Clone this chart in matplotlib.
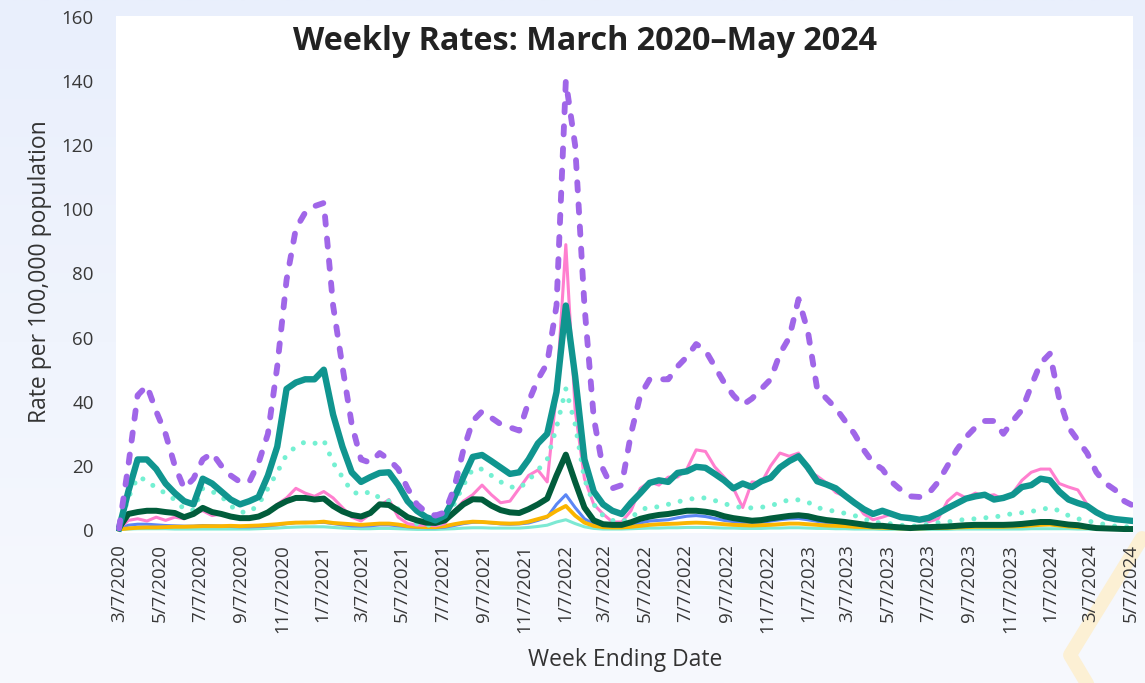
import numpy as np
import pandas as pd
import matplotlib
matplotlib.use("Agg")
import matplotlib.pyplot as plt
from matplotlib.colors import LinearSegmentedColormap

plt.rcParams['font.family'] = ['Open Sans', 'DejaVu Sans']

# ---------------- data (biweekly, week ending dates) ----------------
dates = pd.date_range('2020-03-07', periods=110, freq='14D')

purple = [0.5, 20, 42, 45, 37, 30, 20, 13, 16, 22, 24, 20, 17, 15, 15, 21, 30, 51, 78, 94,
          99, 101, 102, 70, 51, 33, 22, 21, 24, 22, 19, 13, 8, 5.5, 4.5, 5.5, 13, 25, 34, 37,
          35, 33, 32, 31, 40, 47, 52, 70, 140, 120, 70, 35, 19, 13, 14, 30, 42, 47, 47, 47,
          51, 54, 58, 56, 51, 46, 42, 39, 41, 44, 47, 55, 60, 72, 62, 44, 41, 38, 34, 30,
          25, 21, 19, 15, 12.5, 10.5, 10.3, 11.5, 15, 20, 25, 29, 32, 34, 34, 30, 34, 37.5, 45, 52,
          55, 41, 32, 28, 24, 18, 14.5, 12.5, 9, 7.5]

teal = [0.5, 12, 22, 22, 19, 14.5, 11.5, 9, 8, 16, 14.5, 12, 9.5, 8, 9, 10.3, 17, 26, 44, 46,
        47, 47, 50, 36, 26, 18, 15, 16.5, 17.8, 18, 14, 9, 6, 4, 3, 4.5, 10, 16.5, 22.8, 23.4,
        21.5, 19.5, 17.5, 18, 22, 27, 30, 43, 70, 48, 22, 12, 8, 6, 5, 8.5, 11.5, 14.7, 15.5, 15,
        17.8, 18.3, 19.7, 19.4, 17.5, 15.5, 13, 14.5, 13.4, 15.2, 16.3, 19.5, 21.5, 23, 19.5, 15.2, 14.2, 13, 10.7, 8.5,
        6.5, 5, 6, 5, 4, 3.7, 3.2, 3.8, 5.2, 6.8, 8.3, 9.8, 10.5, 11, 9.5, 10, 11, 13.4, 14, 16,
        15.5, 12, 9.5, 8.4, 7.5, 5.5, 4, 3.4, 3.1, 2.8]

dotted = [0.5, 10, 16.5, 15.5, 13, 11.5, 9.4, 6.5, 6.2, 13, 12, 10.5, 7.5, 5.6, 5.5, 8, 13, 18, 23.5, 26,
          27.5, 27, 28, 21, 16.5, 12, 11, 12, 10, 9, 6.5, 3.5, 2, 1.5, 1.5, 3, 8, 14, 19, 19,
          17, 15, 13.5, 13, 15.5, 18.7, 22, 32, 44, 33, 16, 8, 4.5, 3, 2.5, 3.8, 6.2, 7.2, 7.2, 8,
          8.8, 9.4, 10, 10, 9.2, 8.2, 7.5, 6.9, 6.9, 7.1, 7.5, 8.6, 9.4, 9.4, 8.7, 7, 6.3, 5.8, 5.2, 4.5,
          3.6, 2.3, 2.3, 1.9, 1.5, 1.2, 1.3, 1.9, 2.3, 2.5, 3, 3.3, 3.5, 3.8, 4, 4.6, 5.1, 5.4, 5.8, 6.3,
          7, 6, 4.5, 3.5, 2.9, 2.2, 1.7, 1.2, 1, 1]

dark_green = [0.6, 5, 5.6, 6, 6, 5.6, 5.3, 4, 5, 6.9, 5.6, 5, 4.2, 3.7, 3.7, 4.2, 5.5, 7.5, 9, 10,
              10, 9.5, 9.8, 7.5, 5.8, 4.7, 4.2, 5.3, 8, 7.8, 6, 4, 3, 2.3, 2.2, 3, 5.5, 8, 9.6, 9.5,
              7.6, 6.2, 5.5, 5.3, 6.5, 8, 9.8, 17, 23.5, 15, 7, 3, 1.8, 1.6, 1.6, 2.4, 3.5, 4.2, 4.7, 5,
              5.5, 6, 6, 5.7, 5.2, 4.3, 3.7, 3.3, 2.9, 3.1, 3.6, 4, 4.4, 4.6, 4.3, 3.6, 3.1, 2.8, 2.5, 2.1,
              1.7, 1.3, 1.3, 1, 0.8, 0.6, 0.8, 0.9, 1, 1.1, 1.3, 1.5, 1.6, 1.6, 1.6, 1.6, 1.7, 1.9, 2.2, 2.5,
              2.5, 2.1, 1.7, 1.5, 1, 0.6, 0.5, 0.4, 0.3, 0.3]

pink = [0.3, 3, 3.5, 2.8, 4, 3, 4, 3.5, 5.5, 6, 4.5, 5, 4, 3.5, 3.8, 4.5, 5.5, 8, 10, 13,
        11.5, 10.5, 12, 10, 7, 4, 2.8, 5, 7.5, 9.5, 4, 2, 1.5, 1.5, 1.3, 2, 6, 9, 11, 14,
        11, 8.5, 9, 13, 17, 18.7, 15, 43, 89, 37.5, 16, 8, 5, 2.5, 2.5, 6, 13, 15, 14, 16.5,
        16.5, 19, 25, 24.5, 19.7, 16.5, 13, 7, 15, 14.7, 20, 24, 23, 24, 18.5, 16.8, 14.7, 11.7, 10.5, 9,
        5, 3.2, 4, 5, 4.5, 3.5, 3, 2.6, 3.5, 9, 11.5, 10, 11.5, 10.5, 11, 9.5, 11.5, 15.5, 18, 19,
        19, 14.5, 13.4, 12.5, 8, 5.2, 4, 3.3, 2.7, 2.5]

blue = [0.3, 1.5, 1.8, 1.8, 1.6, 1.4, 1.3, 1.2, 1.2, 1.4, 1.3, 1.2, 1.1, 1.0, 1.0, 1.1, 1.3, 1.6, 2.0, 2.3,
        2.4, 2.3, 2.4, 2.0, 1.6, 1.3, 1.2, 1.3, 1.6, 1.6, 1.3, 1.0, 0.8, 0.7, 0.7, 0.9, 1.4, 2.0, 2.4, 2.5,
        2.2, 1.9, 1.8, 1.9, 2.2, 3.0, 4.0, 8, 11, 7, 3.5, 1.8, 1.2, 1.0, 1.0, 1.5, 2.2, 2.8, 3.0, 3.2,
        3.8, 4.3, 4.5, 4.2, 3.6, 3.0, 2.6, 2.3, 2.2, 2.4, 2.8, 3.2, 3.5, 3.6, 3.2, 2.7, 2.3, 2.0, 1.8, 1.5,
        1.2, 1.0, 1.0, 0.8, 0.7, 0.6, 0.7, 0.8, 0.9, 1.0, 1.2, 1.3, 1.4, 1.5, 1.5, 1.5, 1.6, 1.9, 2.3, 2.7,
        2.8, 2.3, 1.8, 1.5, 1.1, 0.8, 0.6, 0.5, 0.4, 0.4]

yellow = [0.2, 0.5, 0.7, 0.8, 0.8, 0.9, 1.0, 1.0, 1.1, 1.2, 1.2, 1.2, 1.3, 1.2, 1.3, 1.4, 1.6, 1.8, 2.1, 2.3,
          2.3, 2.4, 2.6, 2.2, 2.0, 1.8, 1.6, 1.8, 2.0, 2.0, 1.7, 1.2, 1.0, 0.9, 0.9, 1.2, 1.8, 2.3, 2.6, 2.5,
          2.3, 2.1, 2.0, 2.1, 2.6, 3.4, 4.2, 6, 7.5, 4.5, 2.3, 1.3, 0.9, 0.8, 0.8, 1.0, 1.3, 1.6, 1.8, 1.9,
          2.0, 2.2, 2.3, 2.2, 2.0, 1.8, 1.6, 1.5, 1.4, 1.5, 1.6, 1.8, 2.0, 2.0, 1.8, 1.6, 1.4, 1.3, 1.2, 1.0,
          0.9, 0.8, 0.7, 0.6, 0.5, 0.5, 0.5, 0.6, 0.6, 0.7, 0.8, 0.9, 1.0, 1.0, 1.0, 1.0, 1.1, 1.2, 1.4, 1.6,
          1.7, 1.4, 1.1, 0.9, 0.7, 0.5, 0.4, 0.3, 0.3, 0.3]

cyan = [0.1, 0.3, 0.4, 0.4, 0.4, 0.4, 0.3, 0.3, 0.3, 0.3, 0.3, 0.3, 0.3, 0.3, 0.3, 0.4, 0.5, 0.6, 0.8, 0.9,
        1.0, 1.0, 1.0, 0.8, 0.6, 0.5, 0.4, 0.4, 0.5, 0.5, 0.4, 0.3, 0.2, 0.2, 0.2, 0.3, 0.4, 0.6, 0.7, 0.7,
        0.6, 0.6, 0.6, 0.6, 0.8, 1.1, 1.5, 2.5, 3.2, 2.0, 1.0, 0.5, 0.3, 0.3, 0.3, 0.4, 0.5, 0.6, 0.6, 0.7,
        0.7, 0.8, 0.8, 0.8, 0.7, 0.6, 0.6, 0.5, 0.5, 0.5, 0.6, 0.6, 0.7, 0.7, 0.6, 0.5, 0.5, 0.4, 0.4, 0.3,
        0.3, 0.3, 0.2, 0.2, 0.2, 0.2, 0.2, 0.2, 0.2, 0.2, 0.3, 0.3, 0.3, 0.3, 0.3, 0.3, 0.3, 0.3, 0.4, 0.4,
        0.4, 0.4, 0.4, 0.3, 0.3, 0.2, 0.2, 0.2, 0.2, 0.2]

tick_dates = [pd.Timestamp(y, m, 7) for y in range(2020, 2025) for m in (1, 3, 5, 7, 9, 11)
              if pd.Timestamp('2020-03-07') <= pd.Timestamp(y, m, 7) <= pd.Timestamp('2024-05-07')]
tick_labels = [f"{d.month}/{d.day}/{d.year}" for d in tick_dates]

title = "Weekly Rates: March 2020\u2013May 2024"
ylabel = "Rate per 100,000 population"
xlabel = "Week Ending Date"

# ---------------- figure ----------------
W, H = 1145, 683
fig = plt.figure(figsize=(W / 100, H / 100), dpi=100)

# background gradient
bg = fig.add_axes([0, 0, 1, 1], zorder=-10)
cmap = LinearSegmentedColormap.from_list('bg', ['#f7f9fe', '#e9effc'])
bg.imshow(np.linspace(0, 1, 256).reshape(-1, 1), aspect='auto', cmap=cmap,
          origin='lower', extent=[0, 1, 0, 1])
bg.set_xlim(0, 1); bg.set_ylim(0, 1)
bg.axis('off')
# decorative pale hexagon stroke bottom right
bg.plot([1142 / W, 1070 / W, 1092 / W], [1 - 538 / H, 1 - 655 / H, 1 - 692 / H],
        color='#fcf0d4', lw=10, solid_joinstyle='round', solid_capstyle='round', zorder=1)

left, right, top, bottom = 116, 1133, 16, 533
ax = fig.add_axes([left / W, 1 - bottom / H, (right - left) / W, (bottom - top) / H])
ax.set_facecolor('white')
for s in ax.spines.values():
    s.set_visible(False)

ax.plot(dates, cyan, color='#7de9d3', lw=2.2, zorder=2)
ax.plot(dates, blue, color='#5b86f5', lw=2.2, zorder=3)
ax.plot(dates, yellow, color='#fbb500', lw=2.8, zorder=4)
ax.plot(dates, pink, color='#ff7fcf', lw=2.2, zorder=5)
ax.plot(dates, dotted, color='#74f0d2', lw=3.6, linestyle=(0, (0.01, 2.4)),
        dash_capstyle='round', zorder=6)
ax.plot(dates, dark_green, color='#015c3b', lw=4.3, zorder=7, solid_joinstyle='round')
ax.plot(dates, teal, color='#10958f', lw=4.6, zorder=8, solid_joinstyle='round')
ax.plot(dates, purple, color='#a066e8', lw=4.2, linestyle=(0, (1.4, 2.4)),
        dash_capstyle='round', zorder=9)

# scales
x0 = pd.Timestamp('2020-03-07')
ax.set_xlim(x0 - pd.Timedelta(days=4.5), x0 + pd.Timedelta(days=1525))
px_per_unit = (530 - 17) / 160
ax.set_ylim(-(bottom - 530) / px_per_unit, 160 + (17 - top) / px_per_unit)

ax.set_yticks(range(0, 161, 20))
ax.set_xticks(tick_dates)
ax.set_xticklabels(tick_labels, rotation=90)
ax.tick_params(axis='both', length=0, labelsize=13.5, labelcolor='#383838')
ax.tick_params(axis='y', pad=16)
ax.tick_params(axis='x', pad=8)

fig.text(40 / W, 1 - 272 / H, ylabel, rotation=90, ha='center', va='center',
         fontsize=16.5, color='#333333')
fig.text(625 / W, 1 - 660 / H, xlabel, ha='center', va='center',
         fontsize=16.5, color='#333333')
fig.text(585 / W, 1 - 42 / H, title, ha='center', va='center',
         fontsize=23.3, fontweight='bold', color='#222222')

fig.savefig('out.png', dpi=100)
